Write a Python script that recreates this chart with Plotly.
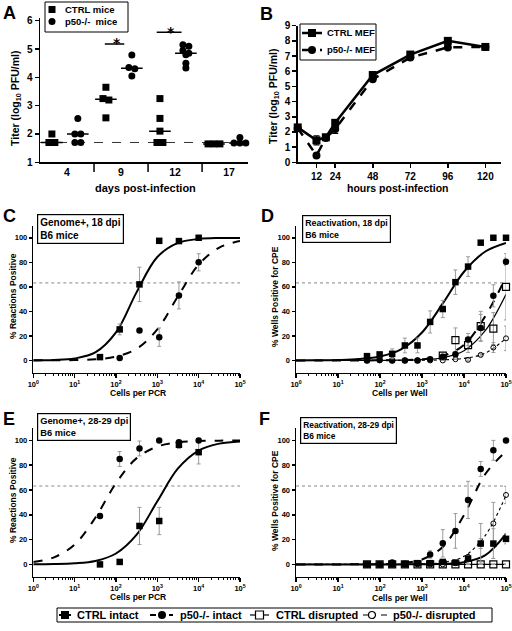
import numpy as np
import plotly.graph_objects as go

W, H = 512, 631
FONT = "Liberation Sans"

# ---------------- Panel A : titers in mice ----------------
A_DAYS = ["4", "9", "12", "17"]
A_CTRL = [[2.0, 1.7, 1.7], [3.65, 3.25, 3.2, 2.57], [3.25, 2.55, 2.1, 1.7, 1.7], [1.65, 1.65, 1.65]]
A_P50 = [[2.55, 2.0, 2.0, 1.7, 1.7], [4.79, 4.35, 4.3, 4.05],
         [5.15, 5.1, 4.95, 4.85, 4.8, 4.5, 4.33], [1.88, 1.68, 1.68, 1.68]]
A_LOD = 1.7
A_NAMES = ["CTRL mice", "p50-/-\u00a0 mice"]

# ---------------- Panel B : MEF growth curve ----------------
B_HOURS = [0, 12, 18, 24, 48, 72, 96, 120]
B_CTRL = [2.3, 1.45, 1.65, 2.6, 5.75, 7.1, 8.0, 7.6]
B_CTRL_ERR = [0.1, 0.3, 0.15, 0.15, 0.1, 0.1, 0.1, 0.05]
B_P50 = [2.25, 0.45, 1.6, 2.2, 5.48, 6.9, 7.57, 7.6]
B_P50_ERR = [0.1, 0.1, 0.1, 0.3, 0.1, 0.1, 0.1, 0.05]
B_NAMES = ["CTRL MEF", "p50-/- MEF"]

# ---------------- Panels C-F : limiting dilution ----------------
PCR_CELLS = [41, 123, 370, 1111, 3333, 10000]
WELL_CELLS = [49, 98, 195, 391, 781, 1563, 3125, 6250, 12500, 25000, 50000, 100000]
FIT_LOG10_CELLS = [0, 0.5, 1, 1.5, 2, 2.5, 3, 3.5, 4, 4.5, 5]
SERIES_NAMES = ["CTRL intact", "p50-/- intact", "CTRL disrupted", "p50-/- disrupted"]

C_CTRL = [2.7, 25.3, 62, 97.5, 97.3, 100]
C_CTRL_ERR = [1, 4.4, 14, 1.5, 2, 0]
C_P50 = [None, 2, 24.5, 19, 53, 80]
C_P50_ERR = [0, 1.5, 1, 7.5, 11, 7]
C_CTRL_FIT = [0.09, 0.38, 1.6, 6.5, 22.8, 55.7, 84.3, 95.8, 99.0, 99.8, 99.9]
C_P50_FIT = [0.03, 0.1, 0.3, 1.0, 3.1, 9.5, 25.3, 52.3, 78.1, 92.0, 97.4]

D_CTRL = [3.5, 4.9, 5.4, 12.2, 12.2, 31.4, 41.9, 63.8, 76.5, 96, 100, 100]
D_CTRL_ERR = [2, 2, 4, 6, 6, 9, 7, 10, 8, 0, 0, 0]
D_P50 = [0, 0.5, 0, 0, 0, 1, 3, 5, 17, 26.5, 52.7, 80.5]
D_P50_ERR = [0, 0, 0, 0, 0, 0, 2, 2, 5, 11, 9, 3]
D_CTRLD = [None, None, None, None, None, None, 4, 16.5, 12.5, 28, 26, 60]
D_CTRLD_ERR = [0, 0, 0, 0, 0, 0, 1, 10, 6, 12, 13, 27]
D_P50D = [0, 0, 0, 0, 0, 0, 0, 1, 0.5, 4.5, 10.5, 18]
D_P50D_ERR = [0, 0, 0, 0, 0, 0, 0, 0, 1, 1, 4, 10]
D_CTRL_FIT = [0.04, 0.13, 0.38, 1.1, 3.2, 9.0, 22.8, 46.7, 72.3, 88.6, 95.8]
D_P50_FIT = [0, 0, 0, 0.02, 0.07, 0.26, 1.0, 3.7, 12.7, 35.7, 68.0]
D_CTRLD_FIT = [0, 0, 0, 0.01, 0.05, 0.17, 0.6, 2.2, 7.9, 24.0, 53.9]
D_P50D_FIT = [0, 0, 0, 0, 0.01, 0.04, 0.14, 0.5, 1.7, 5.8, 18.0]

E_CTRL = [0, 2, 31, 35, 96.5, 90.5]
E_CTRL_ERR = [0, 0, 15, 11, 3, 9.5]
E_P50 = [39, 85, 93.5, 100, 98.5, 100]
E_P50_ERR = [2, 6, 6, 0, 0, 0]
E_CTRL_FIT = [0.08, 0.27, 0.9, 2.8, 8.8, 24.0, 50.9, 77.4, 91.8, 97.4, 99.2]
E_P50_FIT = [1.9, 5.7, 16.0, 37.6, 65.5, 85.7, 95.0, 98.4, 99.5, 99.8, 99.9]

F_CTRL = [0, 0, 0, 0, 1, 1, 2, 1.5, 4.7, 16.8, 16.8, 20.6]
F_CTRL_ERR = [0, 0, 0, 0, 0, 0, 0, 0, 2, 4, 12, 4]
F_P50 = [0, 0, 1.5, 0.5, 1, 8, 17, 27, 52, 77, 92, 100]
F_P50_ERR = [0, 0, 0, 0, 0, 3, 11, 14, 15, 6, 8, 0]
F_CTRLD = [0, 0, 0, 0, 0, 0, 0, 0, 0, 0, 0, 0]
F_CTRLD_ERR = [0] * 12
F_P50D = [0, 0, 0, 0, 0, 0, 0, 1, 6, 17, 33, 56]
F_P50D_ERR = [0, 0, 0, 0, 0, 0, 0, 0, 2, 16, 17, 7]
F_CTRL_FIT = [0, 0, 0, 0, 0, 0.02, 0.1, 0.44, 1.8, 7.2, 24.6]
F_P50_FIT = [0, 0, 0.02, 0.07, 0.27, 1.0, 4.0, 14.3, 39.8, 72.5, 91.3]
F_CTRLD_FIT = [0, 0, 0, 0, 0, 0, 0, 0, 0, 0, 0]
F_P50D_FIT = [0, 0, 0, 0, 0.02, 0.09, 0.39, 1.6, 6.5, 23.0, 55.7]

LIMIT = 63.2

# ------------------------------------------------------------
def py(p):
    return 1 - p / H


def px(p):
    return p / W


def bold(size, family=FONT):
    return dict(family=family, size=size, color="#000000", weight="bold")


def jitter(vals, center, step=0.11, tol=0.12):
    order = sorted(range(len(vals)), key=lambda i: -vals[i])
    xs = [0.0] * len(vals)
    clusters = []
    for i in order:
        if clusters and abs(vals[clusters[-1][0]] - vals[i]) < tol:
            clusters[-1].append(i)
        else:
            clusters.append([i])
    for c in clusters:
        n = len(c)
        for k, i in enumerate(c):
            xs[i] = center + (k - (n - 1) / 2) * step
    return xs


fig = go.Figure()

# ---- Panel A traces
CTRL_OFF, P50_OFF = -0.28, 0.2
for vals_all, off, sym, name in [(A_CTRL, CTRL_OFF, "square", A_NAMES[0]),
                                 (A_P50, P50_OFF, "circle", A_NAMES[1])]:
    xs, ys, mx, my = [], [], [], []
    for g, vals in enumerate(vals_all):
        xs += jitter(vals, g + off)
        ys += vals
        med = float(np.median(vals))
        mx += [g + off - 0.2, g + off + 0.2, None]
        my += [med, med, None]
    fig.add_trace(go.Scatter(x=mx, y=my, mode="lines", line=dict(color="black", width=1.5),
                             xaxis="x", yaxis="y", hoverinfo="skip"))
    fig.add_trace(go.Scatter(x=xs, y=ys, mode="markers", name=name,
                             marker=dict(symbol=sym, size=7, color="black"),
                             xaxis="x", yaxis="y", cliponaxis=False))

# ---- Panel B traces
fig.add_trace(go.Scatter(x=B_HOURS, y=B_CTRL, mode="lines+markers", name=B_NAMES[0],
                         line=dict(color="black", width=2.5),
                         marker=dict(symbol="square", size=8, color="black"),
                         error_y=dict(type="data", array=B_CTRL_ERR, color="black", thickness=1.2, width=3),
                         xaxis="x2", yaxis="y2", cliponaxis=False))
fig.add_trace(go.Scatter(x=B_HOURS, y=B_P50, mode="lines+markers", name=B_NAMES[1],
                         line=dict(color="black", width=2.5, dash="dash"),
                         marker=dict(symbol="circle", size=8, color="black"),
                         error_y=dict(type="data", array=B_P50_ERR, color="black", thickness=1.2, width=3),
                         xaxis="x2", yaxis="y2", cliponaxis=False))

# ---- Panels C-F
STYLES = {
    "ci": dict(marker=dict(symbol="square", size=6.5, color="black"),
               line=dict(color="black", width=2)),
    "pi": dict(marker=dict(symbol="circle", size=6.5, color="black"),
               line=dict(color="black", width=2, dash="dash")),
    "cd": dict(marker=dict(symbol="square-open", size=7, color="black", line=dict(width=1.2)),
               line=dict(color="black", width=1.2)),
    "pd": dict(marker=dict(symbol="circle-open", size=5, color="black", line=dict(width=1)),
               line=dict(color="black", width=1.1, dash="dot")),
}
KEY_NAME = dict(zip(["ci", "pi", "cd", "pd"], SERIES_NAMES))
fit_cells = [10 ** v for v in FIT_LOG10_CELLS]

panels = [
    ("x3", "y3", PCR_CELLS, [("ci", C_CTRL, C_CTRL_ERR, C_CTRL_FIT), ("pi", C_P50, C_P50_ERR, C_P50_FIT)]),
    ("x4", "y4", WELL_CELLS, [("cd", D_CTRLD, D_CTRLD_ERR, D_CTRLD_FIT), ("pd", D_P50D, D_P50D_ERR, D_P50D_FIT),
                              ("pi", D_P50, D_P50_ERR, D_P50_FIT), ("ci", D_CTRL, D_CTRL_ERR, D_CTRL_FIT)]),
    ("x5", "y5", PCR_CELLS, [("ci", E_CTRL, E_CTRL_ERR, E_CTRL_FIT), ("pi", E_P50, E_P50_ERR, E_P50_FIT)]),
    ("x6", "y6", WELL_CELLS, [("cd", F_CTRLD, F_CTRLD_ERR, F_CTRLD_FIT), ("pd", F_P50D, F_P50D_ERR, F_P50D_FIT),
                              ("ci", F_CTRL, F_CTRL_ERR, F_CTRL_FIT), ("pi", F_P50, F_P50_ERR, F_P50_FIT)]),
]
for xa, ya, cells, series in panels:
    for key, vals, errs, fit in series:
        st = STYLES[key]
        fig.add_trace(go.Scatter(x=fit_cells, y=fit, mode="lines", line=dict(st["line"], shape="spline"),
                                 name=KEY_NAME[key] + " fit", xaxis=xa, yaxis=ya, hoverinfo="skip"))
    for key, vals, errs, fit in series:
        st = STYLES[key]
        fig.add_trace(go.Scatter(x=cells, y=vals, mode="markers", marker=st["marker"], name=KEY_NAME[key],
                                 error_y=dict(type="data", array=errs, color="#9a9a9a", thickness=1, width=2),
                                 xaxis=xa, yaxis=ya, cliponaxis=False))

# ---------------- axes ----------------
def axis(**kw):
    base = dict(showline=True, linecolor="black", linewidth=1.5, ticks="outside", tickcolor="black",
                tickwidth=1.5, ticklen=4, showgrid=False, zeroline=False, tickfont=bold(10),
                automargin=False)
    base.update(kw)
    return base


log_ticks = [1, 10, 100, 1000, 10000, 100000]
log_text = ["10<sup>%d</sup>" % i for i in range(6)]
minor_vals = [k * 10 ** n for n in range(5) for k in range(2, 10)]


def log_axis(domain, anchor):
    return axis(type="log", range=[0, 5], domain=domain, anchor=anchor, tickvals=log_ticks,
                ticktext=log_text, tickfont=bold(7.5), ticklen=4,
                minor=dict(tickvals=minor_vals, ticks="outside", ticklen=2, tickcolor="black", tickwidth=1))


def pct_axis(domain, anchor):
    return axis(range=[-10, 110], domain=domain, anchor=anchor, tickvals=[0, 20, 40, 60, 80, 100],
                tickfont=bold(7.5), ticklen=3)


XL = [px(33.3), px(240)]
XR = [px(296), px(506)]
YM = [py(372.7), py(225.5)]
YB = [py(576.8), py(428)]

fig.update_layout(
    width=W, height=H, margin=dict(l=0, r=0, t=0, b=0, autoexpand=False),
    paper_bgcolor="white", plot_bgcolor="white",
    font=bold(10), showlegend=False, hovermode=False,
    xaxis=axis(domain=[px(40), px(248)], anchor="y", range=[-0.5, 3.35], tickvals=[0, 1, 2, 3],
               ticktext=A_DAYS, ticks="", tickfont=bold(10.5)),
    yaxis=axis(domain=[py(162.3), py(17.9)], anchor="x", range=[1, 6.1], tickvals=[1, 2, 3, 4, 5, 6]),
    xaxis2=axis(domain=[px(297.7), px(501)], anchor="y2", range=[0, 130], tickvals=[12, 24, 48, 72, 96, 120]),
    yaxis2=axis(domain=[py(162.3), py(25.7)], anchor="x2", range=[0, 9], dtick=1),
    xaxis3=log_axis(XL, "y3"), yaxis3=pct_axis(YM, "x3"),
    xaxis4=log_axis(XR, "y4"), yaxis4=pct_axis(YM, "x4"),
    xaxis5=log_axis(XL, "y5"), yaxis5=pct_axis(YB, "x5"),
    xaxis6=log_axis(XR, "y6"), yaxis6=pct_axis(YB, "x6"),
)

shapes = []
ann = []


def text(t, x, y, size=10, angle=0, xanchor="center", yanchor="middle", **kw):
    ann.append(dict(text=t, x=px(x), y=py(y), xref="paper", yref="paper", showarrow=False, font=bold(size),
                    textangle=angle, xanchor=xanchor, yanchor=yanchor, **kw))


def pline(x0, x1, y, width=1.5, dash="solid"):
    shapes.append(dict(type="line", xref="paper", yref="paper", x0=px(x0), x1=px(x1), y0=py(y), y1=py(y),
                       line=dict(color="black", width=width, dash=dash), layer="above"))


def pbox(x0, x1, y0, y1, width=1.0, fill="white"):
    shapes.append(dict(type="rect", xref="paper", yref="paper", x0=px(x0), x1=px(x1), y0=py(y1), y1=py(y0),
                       line=dict(color="black", width=width), fillcolor=fill, layer="above"))


def psym(kind, cx, cy, size, filled=True, lw=1.2):
    h = size / 2
    shapes.append(dict(type="rect" if kind == "square" else "circle", xref="paper", yref="paper",
                       x0=px(cx - h), x1=px(cx + h), y0=py(cy + h), y1=py(cy - h),
                       line=dict(color="black", width=0 if filled else lw),
                       fillcolor="black" if filled else "white", layer="above"))


# group separators in A
for sx in [0.5, 1.5, 2.5]:
    shapes.append(dict(type="line", xref="x", yref="paper", x0=sx, x1=sx, y0=py(162.3), y1=py(172),
                       line=dict(color="black", width=1.5)))
# detection limit in A
shapes.append(dict(type="line", xref="x domain", yref="y", x0=0, x1=1, y0=A_LOD, y1=A_LOD,
                   line=dict(color="#333", width=1, dash="dash"), layer="below"))
# significance bars and stars
shapes.append(dict(type="line", xref="x", yref="y", x0=0.70, x1=1.06, y0=5.18, y1=5.18, line=dict(color="black", width=1.5)))
shapes.append(dict(type="line", xref="x", yref="y", x0=1.66, x1=2.12, y0=5.59, y1=5.59, line=dict(color="black", width=1.5)))
for sx, sy in [(0.92, 5.2), (1.92, 5.61)]:
    ann.append(dict(text="*", x=sx, y=sy, xref="x", yref="y", showarrow=False,
                    font=bold(14, "DejaVu Sans"), yanchor="middle"))
# 63.2% lines
for n in range(3, 7):
    shapes.append(dict(type="line", xref="x%d domain" % n, yref="y%d" % n, x0=0, x1=1, y0=LIMIT, y1=LIMIT,
                       line=dict(color="#888", width=1, dash="dot"), layer="below"))

# ---- legend A
pbox(45, 128, 2, 32)
psym("square", 52, 9.5, 7)
psym("circle", 52, 21.5, 7)
text(A_NAMES[0], 63, 9.5, size=9.5, xanchor="left")
text(A_NAMES[1], 63, 21.5, size=9.5, xanchor="left")

# ---- legend B
pbox(300, 376, 24, 60)
pline(302, 322, 33, width=2.5)
psym("square", 312, 33, 8)
pline(302, 322, 50, width=2.5, dash="dash")
psym("circle", 312, 50, 8)
text(B_NAMES[0], 325, 33, size=9.5, xanchor="left")
text(B_NAMES[1], 325, 50, size=9.5, xanchor="left")

# ---- shared legend C-F
pbox(57, 492, 608, 622)
ly = 615
pline(59, 71, ly, width=2)
psym("square", 65, ly, 8)
text(SERIES_NAMES[0], 75, ly, size=11, xanchor="left")
pline(150, 156, ly, width=2)
pline(169, 173, ly, width=2)
psym("circle", 162, ly, 8)
text(SERIES_NAMES[1], 178, ly, size=11, xanchor="left")
pline(250, 269, ly, width=1.2)
psym("square", 259.5, ly, 8, filled=False)
text(SERIES_NAMES[2], 274, ly, size=11, xanchor="left")
pline(363, 387, ly, width=1.2, dash="dash")
psym("circle", 372, ly, 7, filled=False)
text(SERIES_NAMES[3], 391, ly, size=11, xanchor="left")

# panel letters
for L, x, y in [("A", 1, 1), ("B", 258, 2), ("C", 1, 204), ("D", 259, 204), ("E", 1, 407), ("F", 257, 407)]:
    text(L, x, y, size=18, xanchor="left", yanchor="top")

# axis titles
text("Titer (log<sub>10</sub> PFU/ml)", 16, 98, size=10.5, angle=-90)
text("days post-infection", 145, 188, size=11)
text("Titer (log<sub>10</sub> PFU/ml)", 274, 96, size=10.5, angle=-90)
text("hours post-infection", 398, 188, size=10.5)
text("% Reactions Positive", 13, 296, size=8.5, angle=-90)
text("Cells per PCR", 138, 393, size=8.5)
text("% Wells Positive for CPE", 275, 297, size=8.5, angle=-90)
text("Cells per Well", 400, 393, size=8.5)
text("% Reactions Positive", 13, 500, size=8.5, angle=-90)
text("Cells per PCR", 138, 597, size=8.5)
text("% Wells Positive for CPE", 275, 501, size=8.5, angle=-90)
text("Cells per Well", 400, 598, size=8.5)

# panel description boxes
for t, x, y, s in [("Genome+, 18 dpi<br>B6 mice", 37, 214, 10),
                   ("Reactivation, 18 dpi<br>B6 mice", 302, 215, 8.8),
                   ("Genome+, 28-29 dpi<br>B6 mice", 37, 413, 9.3),
                   ("Reactivation, 28-29 dpi<br>B6 mice", 300, 417, 8.4)]:
    ann.append(dict(text=t, x=px(x), y=py(y), xref="paper", yref="paper", showarrow=False, font=bold(s),
                    xanchor="left", yanchor="top", align="left", bordercolor="black",
                    borderwidth=1.2, borderpad=2, bgcolor="white"))

fig.update_layout(shapes=shapes, annotations=ann)
fig.write_html("out.html", config={"displayModeBar": False, "staticPlot": True},
               post_script="document.body.style.margin='0px';document.body.style.overflow='hidden';")
